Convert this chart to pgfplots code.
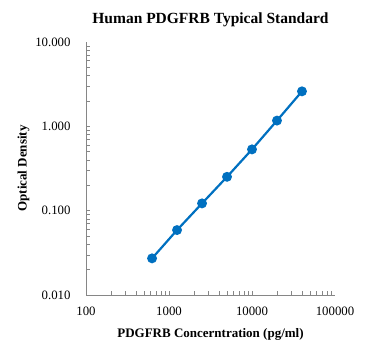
\documentclass[border=0pt]{standalone}
\usepackage{pgfplots}
\pgfplotsset{compat=1.18}
\usepackage{fontspec}
\setmainfont{Liberation Serif}
\definecolor{lineblue}{RGB}{0,112,192}
\definecolor{axgray}{RGB}{134,134,134}
\begin{document}
\begin{tikzpicture}
\begin{axis}[
  scale only axis,
  width=249pt, height=253pt,
  xmode=log, ymode=log,
  xmin=100, xmax=100000, ymin=0.01, ymax=10,
  axis x line*=bottom, axis y line*=left,
  axis line style={axgray, line width=0.6pt},
  xtick={100,1000,10000,100000},
  xticklabels={100,1000,10000,100000},
  ytick={0.01,0.1,1,10},
  yticklabels={0.010,0.100,1.000,10.000},
  major tick length=0pt,
  minor tick length=4pt,
  minor tick style={axgray, line width=0.5pt},
  tick align=inside,
  ticklabel style={font=\fontsize{12.8}{14}\selectfont, text=black},
  xticklabel style={yshift=-8pt},
  yticklabel style={xshift=-12pt},
  title={\textbf{Human PDGFRB Typical Standard}},
  title style={font=\fontsize{15.5}{18}\selectfont, yshift=6pt},
  xlabel={\textbf{PDGFRB Concerntration (pg/ml)}},
  ylabel={\textbf{Optical Density}},
  label style={font=\fontsize{13}{15}\selectfont},
  xlabel style={yshift=-6pt},
  ylabel style={yshift=-1pt},
]
\addplot[color=lineblue, line width=2.2pt, mark=*, mark size=3.8pt, mark options={fill=lineblue, draw=lineblue}]
coordinates {
(625,0.0272) (1250,0.0589) (2500,0.122) (5000,0.252) (10000,0.533) (20000,1.17) (40000,2.60)
};
\end{axis}
\pgfresetboundingbox
\path (current axis.south west) ++(-86pt,-56pt) rectangle ++(372pt,351pt);
\end{tikzpicture}
\end{document}
